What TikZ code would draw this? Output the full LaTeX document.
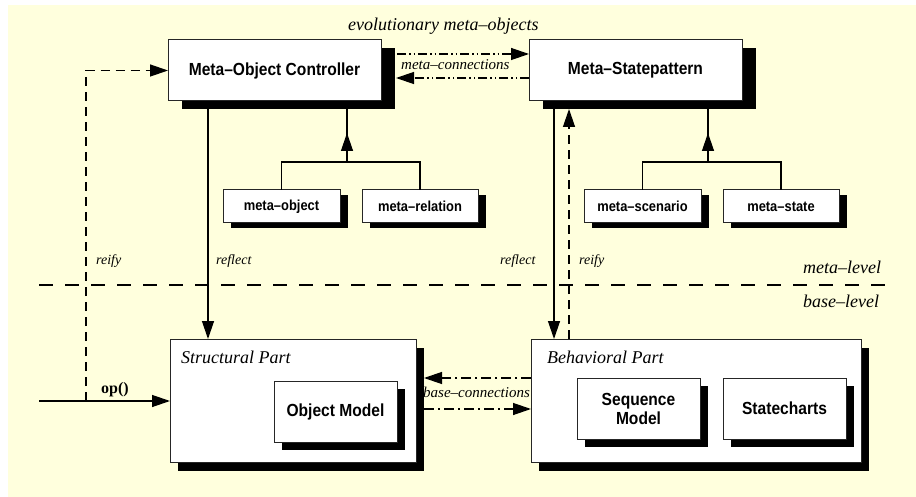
\documentclass[tikz,border=0pt]{standalone}
\usepackage{fontspec}
\setmainfont{Liberation Serif}
\newfontfamily\boxfont[FakeStretch=0.89]{Liberation Sans}
\usetikzlibrary{arrows.meta,shadows,calc}
\definecolor{bgyellow}{RGB}{255,255,221}
\tikzset{
  tip/.style={-{Triangle[length=18pt,width=12pt]}},
  conn/.style={line width=1.3pt},
  box/.style={draw=black!85, line width=1pt, fill=white, inner sep=0pt, outer sep=0pt, align=center},
  bigbox/.style={box, font=\boxfont\bfseries\fontsize{17.5}{20}\selectfont,
     drop shadow={shadow xshift=14pt, shadow yshift=-8pt, fill=black, opacity=1}},
  smallbox/.style={box, font=\boxfont\bfseries\fontsize{14.5}{16}\selectfont, minimum width=117pt, minimum height=33pt,
     drop shadow={shadow xshift=8pt, shadow yshift=-5pt, fill=black, opacity=1}},
  partbox/.style={box, minimum height=123pt,
     drop shadow={shadow xshift=8pt, shadow yshift=-9pt, fill=black, opacity=1}},
  innerbox/.style={box, font=\boxfont\bfseries\fontsize{17.5}{20}\selectfont, minimum width=123pt, minimum height=61pt,
     drop shadow={shadow xshift=8pt, shadow yshift=-8pt, fill=black, opacity=1}},
  lbl/.style={inner sep=0pt, anchor=base west, font=\itshape\fontsize{14}{16}\selectfont},
  biglbl/.style={inner sep=0pt, anchor=base west, font=\itshape\fontsize{18}{20}\selectfont},
  midlbl/.style={inner sep=0pt, anchor=base west, font=\itshape\fontsize{15}{17}\selectfont},
  dashmeta/.style={dash pattern=on 9pt off 3pt on 1.5pt off 3pt on 1.5pt off 3pt},
  dashbase/.style={dash pattern=on 10pt off 4pt on 2pt off 4pt},
}
\begin{document}
\begin{tikzpicture}[x=1pt,y=-1pt]
\useasboundingbox (0,0) rectangle (916,497);
\fill[bgyellow] (8,5) rectangle (916,497);

% meta-level boxes
\node[bigbox, minimum width=213pt, minimum height=61pt] (moc) at (274.5,70.5) {Meta–Object Controller};
\node[bigbox, minimum width=213pt, minimum height=61pt] (msp) at (635.5,70.5) {Meta–Statepattern};
\node[smallbox] (mobj) at (281.5,206.5) {meta–object};
\node[smallbox, minimum width=116pt] (mrel) at (420,206.5) {meta–relation};
\node[smallbox] (mscen) at (642.5,206.5) {meta–scenario};
\node[smallbox, minimum width=116pt] (mstate) at (781,206.5) {meta–state};

% base-level boxes
\node[partbox, minimum width=246pt] (sp) at (293,400.5) {};
\node[partbox, minimum width=330pt] (bp) at (696,400.5) {};
\node[innerbox] (om) at (335.5,411.5) {Object Model};
\node[innerbox] (seq) at (638.5,408.5) {Sequence\\[-1pt]Model};
\node[innerbox] (sc) at (784.5,408.5) {Statecharts};
\node[biglbl] (splbl) at (181,363) {Structural Part};
\node[biglbl] (bplbl) at (547,363) {Behavioral Part};

% inheritance trees
\coordinate (j1) at (347,162);
\coordinate (j2) at (708,162);
\draw[conn] (mobj.north) |- (j1) -| (mrel.north);
\draw[conn] (j1) -- (moc.south -| j1);
\draw[conn, tip] (j1) -- ($(j1)+(0,-29)$);
\draw[conn] (mscen.north) |- (j2) -| (mstate.north);
\draw[conn] (j2) -- (msp.south -| j2);
\draw[conn, tip] (j2) -- ($(j2)+(0,-29)$);

% level separator
\coordinate (sepL) at (39,285);
\coordinate (sepR) at (897,285);
\draw[line width=1.3pt, dash pattern=on 14pt off 12pt] (sepL) -- (sepR);
\node[biglbl] (mlvl) at (803,273) {meta–level};
\node[biglbl] (blvl) at (803,308) {base–level};

% op() and reify (left)
\coordinate (opstart) at (39,401);
\coordinate (rf0) at (86,401);
\draw[conn, tip] (opstart) -- (sp.west |- opstart);
\node[inner sep=0pt, anchor=base west, font=\bfseries\fontsize{16}{18}\selectfont] (oplbl) at (101,393) {op()};
\draw[conn, dash pattern=on 9pt off 6pt, tip] (rf0) |- (moc.west);
\node[lbl] (reify1) at (96,265) {reify};

% reflect (left)
\coordinate (xr1) at (208,0);
\draw[conn, tip] (moc.south -| xr1) -- (sp.north -| xr1);
\node[lbl] (reflect1) at (216,265) {reflect};

% reflect / reify (right)
\coordinate (xr2) at (554,0);
\coordinate (xr3) at (569,0);
\draw[conn, tip] (msp.south -| xr2) -- (bp.north -| xr2);
\draw[conn, dash pattern=on 9pt off 6pt, tip] (bp.north -| xr3) -- ($(msp.south -| xr3)+(0,8)$);
\node[lbl] (reflect2) at (500,265) {reflect};
\node[lbl] (reify2) at (579,265) {reify};

% meta-connections
\coordinate (mcA) at (397,54);
\coordinate (mcB) at (396,78);
\draw[conn, dashmeta, tip] (mcA) -- (msp.west |- mcA);
\draw[conn, dashmeta, tip] (msp.west |- mcB) -- (mcB);
\node[midlbl] (mclbl) at (401,70) {meta–connections};
\node[biglbl] (evo) at (348,31) {evolutionary meta–objects};

% base-connections
\coordinate (bcA) at (424,378);
\coordinate (bcB) at (424,409);
\draw[conn, dashbase, tip] (bp.west |- bcA) -- (bcA);
\draw[conn, dashbase, tip] (bcB) -- (bp.west |- bcB);
\node[midlbl] (bclbl) at (423,397) {base–connections};
\end{tikzpicture}
\end{document}
